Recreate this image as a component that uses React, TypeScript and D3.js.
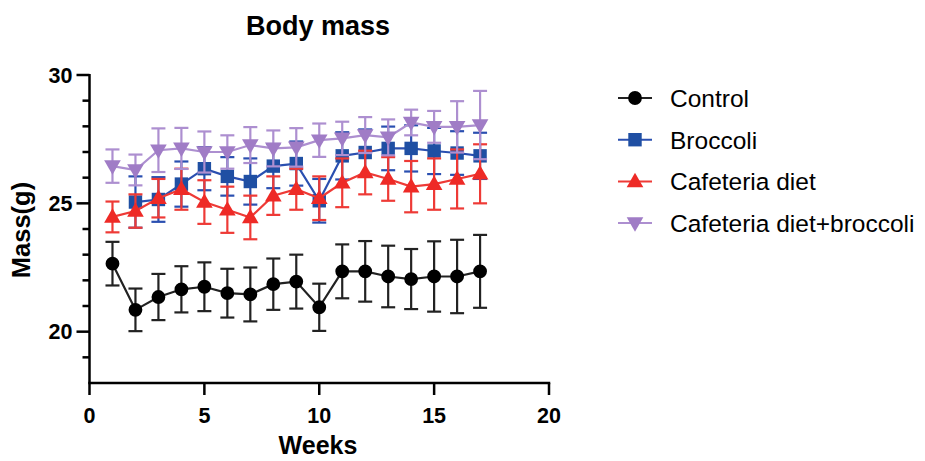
import * as d3 from 'd3';

// weeks and group means / SEM
const weeks = [1, 2, 3, 4, 5, 6, 7, 8, 9, 10, 11, 12, 13, 14, 15, 16, 17];
const broccoliWeeks = [2, 3, 4, 5, 6, 7, 8, 9, 10, 11, 12, 13, 14, 15, 16, 17];

const controlMean = [22.65, 20.85, 21.35, 21.65, 21.75, 21.5, 21.45, 21.85, 21.95, 20.95, 22.35, 22.35, 22.15, 22.05, 22.15, 22.15, 22.35];
const controlSem = [0.85, 0.83, 0.9, 0.9, 0.95, 0.95, 1.05, 1.0, 1.05, 0.92, 1.05, 1.18, 1.2, 1.17, 1.37, 1.43, 1.42];

const broccoliMean = [25.05, 25.15, 25.75, 26.35, 26.05, 25.85, 26.45, 26.55, 25.1, 26.85, 26.98, 27.14, 27.14, 27.04, 26.96, 26.85];
const broccoliSem = [1.0, 0.87, 0.88, 0.84, 0.75, 0.9, 0.86, 0.86, 0.85, 0.92, 0.9, 0.85, 0.9, 0.9, 0.85, 0.9];

const cafeteriaMean = [24.47, 24.7, 25.2, 25.55, 25.05, 24.75, 24.45, 25.3, 25.55, 25.2, 25.8, 26.2, 25.95, 25.65, 25.75, 25.95, 26.15];
const cafeteriaSem = [0.6, 0.65, 0.75, 0.8, 0.85, 0.9, 0.85, 0.75, 0.8, 0.85, 0.95, 0.85, 0.85, 1.0, 1.0, 1.15, 1.15];

const cafBrocMean = [26.45, 26.3, 27.07, 27.14, 27.0, 27.0, 27.27, 27.14, 27.18, 27.46, 27.53, 27.66, 27.57, 28.15, 27.98, 27.98, 28.05];
const cafBrocSem = [0.65, 0.6, 0.85, 0.8, 0.8, 0.65, 0.7, 0.7, 0.75, 0.65, 0.65, 0.7, 0.7, 0.5, 0.62, 1.0, 1.33];

const xTicks = [0, 5, 10, 15, 20];
const yMajor = [20, 25, 30];
const yMinor = [19, 21, 22, 23, 24, 26, 27, 28, 29];

const series = [
  { name: 'Control', x: weeks, mean: controlMean, sem: controlSem, color: '#000000', bar: '#222222', shape: 'circle' },
  { name: 'Broccoli', x: broccoliWeeks, mean: broccoliMean, sem: broccoliSem, color: '#1f4fa3', bar: '#2a4fb0', shape: 'square' },
  { name: 'Cafeteria diet', x: weeks, mean: cafeteriaMean, sem: cafeteriaSem, color: '#ee2a26', bar: '#ee3a36', shape: 'up' },
  { name: 'Cafeteria diet+broccoli', x: weeks, mean: cafBrocMean, sem: cafBrocSem, color: '#a07cc6', bar: '#ad8fd0', shape: 'down' },
];

const FONT = '"Liberation Sans", Arial, Helvetica, sans-serif';

function markerPath(shape: string) {
  if (shape === 'circle') return d3.symbol(d3.symbolCircle, 150)()!;
  if (shape === 'square') return d3.symbol(d3.symbolSquare, 180)()!;
  return d3.symbol(d3.symbolTriangle, 120)()!;
}

function Marker({ shape, cx, cy, color }: { shape: string; cx: number; cy: number; color: string }) {
  const rot = shape === 'down' ? ' rotate(180)' : '';
  const dy = shape === 'up' ? 1 : shape === 'down' ? -1 : 0;
  return <path d={markerPath(shape)} transform={`translate(${cx},${cy + dy})${rot}`} fill={color} />;
}

export default function App() {
  const width = 925;
  const height = 461;
  const x = d3.scaleLinear().domain([0, 20]).range([89.5, 549]);
  const y = d3.scaleLinear().domain([18, 30]).range([383, 75]);
  const line = d3.line<[number, number]>().x(d => x(d[0])).y(d => y(d[1]));

  return (
    <svg width={width} height={height} style={{ position: 'absolute', left: 0, top: 0, background: '#fff' }} fontFamily={FONT}>
      <text x={318} y={35} textAnchor="middle" fontSize={27} fontWeight="bold">Body mass</text>

      {/* series: error bars, lines, markers */}
      {series.map(s => {
        const pts = s.x.map((w, i) => [w, s.mean[i]] as [number, number]);
        return (
          <g key={s.name}>
            {s.x.map((w, i) => {
              const cx = x(w);
              const top = y(s.mean[i] + s.sem[i]);
              const bot = y(s.mean[i] - s.sem[i]);
              return (
                <g key={w} stroke={s.bar} strokeWidth={2.2} fill="none">
                  <line x1={cx} x2={cx} y1={top} y2={bot} />
                  <line x1={cx - 7} x2={cx + 7} y1={top} y2={top} />
                  <line x1={cx - 7} x2={cx + 7} y1={bot} y2={bot} />
                </g>
              );
            })}
            <path d={line(pts)!} fill="none" stroke={s.bar} strokeWidth={2.2} />
            {pts.map(p => (
              <Marker key={p[0]} shape={s.shape} cx={x(p[0])} cy={y(p[1])} color={s.color} />
            ))}
          </g>
        );
      })}

      {/* y axis */}
      <g stroke="#000" strokeWidth={2.5}>
        <line x1={x(0)} x2={x(0)} y1={y(30) - 1} y2={y(18)} />
        {yMajor.map(v => (
          <line key={v} x1={x(0) - 13} x2={x(0)} y1={y(v)} y2={y(v)} />
        ))}
        {yMinor.map(v => (
          <line key={v} x1={x(0) - 7} x2={x(0)} y1={y(v)} y2={y(v)} />
        ))}
      </g>
      {yMajor.map(v => (
        <text key={v} x={x(0) - 17} y={y(v)} dy="0.36em" textAnchor="end" fontSize={21.5} fontWeight="bold">{v}</text>
      ))}
      <text transform={`translate(30,${230}) rotate(-90)`} textAnchor="middle" fontSize={25.5} fontWeight="bold">Mass(g)</text>

      {/* x axis */}
      <g stroke="#000" strokeWidth={2.5}>
        <line x1={x(0) - 1.25} x2={x(20) + 1.25} y1={y(18)} y2={y(18)} />
        {xTicks.map(v => (
          <line key={v} x1={x(v)} x2={x(v)} y1={y(18)} y2={y(18) + 12} />
        ))}
      </g>
      {xTicks.map(v => (
        <text key={v} x={x(v)} y={423} textAnchor="middle" fontSize={21.5} fontWeight="bold">{v}</text>
      ))}
      <text x={318} y={454} textAnchor="middle" fontSize={25} fontWeight="bold">Weeks</text>

      {/* legend */}
      {series.map((s, i) => {
        const ly = 98 + i * 41.7;
        return (
          <g key={s.name}>
            <line x1={618} x2={652} y1={ly} y2={ly} stroke={s.bar} strokeWidth={2} />
            <Marker shape={s.shape} cx={635} cy={ly} color={s.color} />
            <text x={670} y={ly} dy="0.36em" fontSize={24.5}>{s.name}</text>
          </g>
        );
      })}
    </svg>
  );
}
